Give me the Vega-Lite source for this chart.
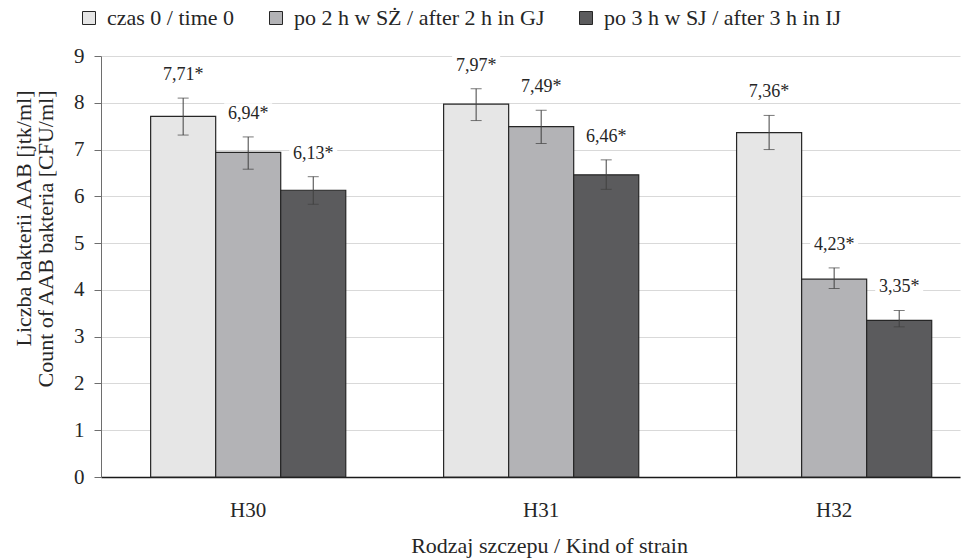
{
  "$schema": "https://vega.github.io/schema/vega-lite/v6.json",
  "width": 859,
  "height": 421,
  "autosize": {"type": "none"},
  "padding": {"left": 101, "top": 56, "right": 9, "bottom": 81},
  "background": "white",
  "config": {
    "font": "Liberation Serif",
    "view": {"stroke": null},
    "axis": {"labelFont": "Liberation Serif", "titleFont": "Liberation Serif", "labelColor": "#262626", "titleColor": "#262626", "titleFontWeight": "normal"},
    "legend": {"labelFont": "Liberation Serif"}
  },
  "data": {
    "values": [
      {"strain": "H30", "series": "czas 0 / time 0", "value": 7.71, "lo": 7.31, "hi": 8.10, "label": "7,71*"},
      {"strain": "H30", "series": "po 2 h w SŻ / after 2 h in GJ", "value": 6.94, "lo": 6.58, "hi": 7.27, "label": "6,94*"},
      {"strain": "H30", "series": "po 3 h w SJ / after 3 h in IJ", "value": 6.13, "lo": 5.83, "hi": 6.42, "label": "6,13*"},
      {"strain": "H31", "series": "czas 0 / time 0", "value": 7.97, "lo": 7.62, "hi": 8.30, "label": "7,97*"},
      {"strain": "H31", "series": "po 2 h w SŻ / after 2 h in GJ", "value": 7.49, "lo": 7.13, "hi": 7.84, "label": "7,49*"},
      {"strain": "H31", "series": "po 3 h w SJ / after 3 h in IJ", "value": 6.46, "lo": 6.15, "hi": 6.78, "label": "6,46*"},
      {"strain": "H32", "series": "czas 0 / time 0", "value": 7.36, "lo": 7.0, "hi": 7.73, "label": "7,36*"},
      {"strain": "H32", "series": "po 2 h w SŻ / after 2 h in GJ", "value": 4.23, "lo": 4.03, "hi": 4.47, "label": "4,23*"},
      {"strain": "H32", "series": "po 3 h w SJ / after 3 h in IJ", "value": 3.35, "lo": 3.21, "hi": 3.56, "label": "3,35*"}
    ]
  },
  "encoding": {
    "x": {
      "field": "strain", "type": "nominal",
      "scale": {"paddingInner": 0.334, "paddingOuter": 0.133, "align": 0.637},
      "axis": {"title": "Rodzaj szczepu / Kind of strain", "labelAngle": 0, "labelFontSize": 21, "titleFontSize": 22, "labelPadding": 22, "titlePadding": 15, "titleX": 448, "ticks": false, "domainColor": "#1a1a1a", "domainWidth": 1.3}
    },
    "xOffset": {"field": "series", "type": "nominal", "scale": {"paddingInner": 0, "paddingOuter": 0}, "sort": ["czas 0 / time 0", "po 2 h w SŻ / after 2 h in GJ", "po 3 h w SJ / after 3 h in IJ"]}
  },
  "layer": [
    {
      "mark": {"type": "bar", "stroke": "#262626", "strokeWidth": 1.2},
      "encoding": {
        "y": {
          "field": "value", "type": "quantitative",
          "scale": {"domain": [0, 9], "nice": false},
          "axis": {"title": ["Liczba bakterii AAB [jtk/ml]", "Count of AAB bakteria [CFU/ml]"], "titleFontSize": 22, "titleLineHeight": 22, "titleAlign": "right", "titleY": 34, "labelFontSize": 21, "values": [0,1,2,3,4,5,6,7,8,9], "labelOverlap": false, "gridColor": "#d9d9d9", "gridWidth": 1, "tickColor": "#6e6e6e", "tickSize": 7, "domainColor": "#6e6e6e", "labelPadding": 10, "titlePadding": 16}
        },
        "fill": {
          "field": "series", "type": "nominal",
          "scale": {"domain": ["czas 0 / time 0", "po 2 h w SŻ / after 2 h in GJ", "po 3 h w SJ / after 3 h in IJ"], "range": ["#e6e6e6", "#b3b3b6", "#5b5b5d"]},
          "legend": {"title": null, "orient": "none", "direction": "horizontal", "legendX": -23, "legendY": -49, "symbolType": "square", "symbolSize": 169, "symbolStrokeColor": "#262626", "symbolStrokeWidth": 1, "labelFontSize": 22, "labelColor": "#262626", "labelOffset": 7, "columnPadding": 30, "labelLimit": 400}
        }
      }
    },
    {
      "mark": {"type": "rule", "color": "#404040", "strokeWidth": 1},
      "encoding": {"y": {"field": "lo", "type": "quantitative", "title": ["Liczba bakterii AAB [jtk/ml]", "Count of AAB bakteria [CFU/ml]"]}, "y2": {"field": "hi"}}
    },
    {
      "mark": {"type": "tick", "color": "#404040", "thickness": 1, "size": 11},
      "encoding": {"y": {"field": "lo", "type": "quantitative", "title": ["Liczba bakterii AAB [jtk/ml]", "Count of AAB bakteria [CFU/ml]"]}}
    },
    {
      "mark": {"type": "tick", "color": "#404040", "thickness": 1, "size": 11},
      "encoding": {"y": {"field": "hi", "type": "quantitative", "title": ["Liczba bakterii AAB [jtk/ml]", "Count of AAB bakteria [CFU/ml]"]}}
    },
    {
      "mark": {"type": "point", "shape": "M-1,-0.44H1V0.44H-1Z", "size": 2304, "filled": true, "fill": "white", "opacity": 1, "strokeWidth": 0, "yOffset": -23},
      "encoding": {"y": {"field": "hi", "type": "quantitative", "title": ["Liczba bakterii AAB [jtk/ml]", "Count of AAB bakteria [CFU/ml]"]}}
    },
    {
      "mark": {"type": "text", "fontSize": 18, "color": "#262626", "dy": -23, "baseline": "middle", "font": "Liberation Serif"},
      "encoding": {"y": {"field": "hi", "type": "quantitative", "title": ["Liczba bakterii AAB [jtk/ml]", "Count of AAB bakteria [CFU/ml]"]}, "text": {"field": "label"}}
    }
  ]
}
